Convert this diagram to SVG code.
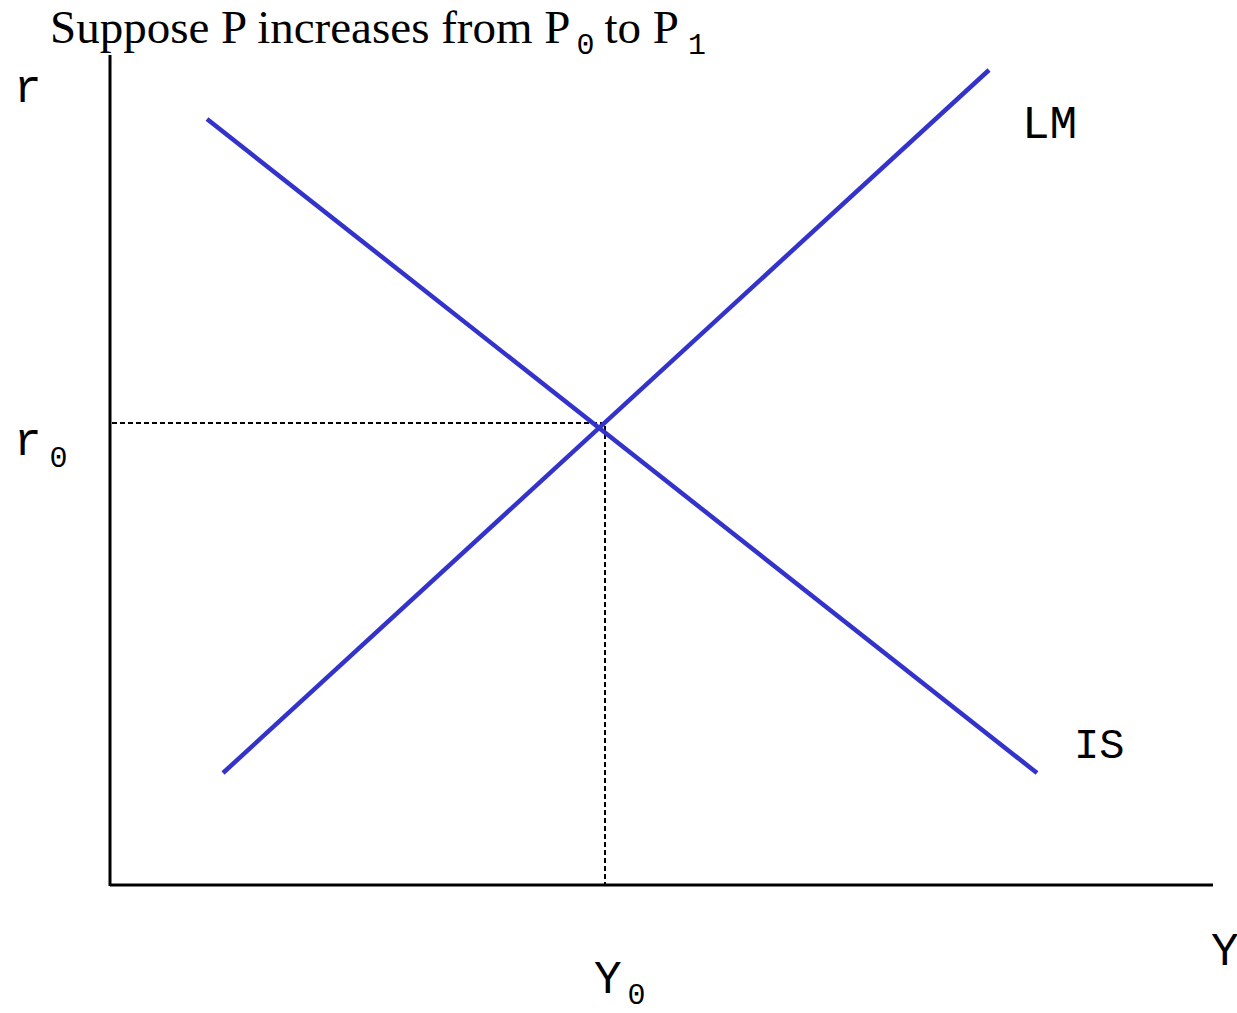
<svg xmlns="http://www.w3.org/2000/svg" width="1237" height="1013" viewBox="0 0 1237 1013">
<style>
.serif{font-family:"Liberation Serif","Times New Roman",serif;fill:#000}
.mono{font-family:"Liberation Mono","Courier New",monospace;fill:#000}
.curve{stroke:#3333cc;stroke-width:4.5;fill:none}
.axis{stroke:#000;stroke-width:3;fill:none}
.dash{stroke:#000;stroke-width:2;stroke-dasharray:5,3;fill:none}
</style>
<rect width="1237" height="1013" fill="#fff"/>
<g id="title"><text class="serif" x="50" y="43" font-size="47">Suppose P increases from P<tspan class="mono" font-size="30" dx="6" dy="11">0</tspan><tspan dx="10" dy="-11">to P</tspan><tspan class="mono" font-size="30" dx="9" dy="11">1</tspan></text></g>
<g id="axes">
<line class="axis" x1="110" y1="55" x2="110" y2="886"/>
<line class="axis" x1="110" y1="885" x2="1213" y2="885"/>
</g>
<g id="guides">
<polyline class="dash" points="112,423 605,423 605,885"/>
</g>
<g id="connectors">
<line id="IS-curve" class="curve" x1="207" y1="119" x2="1037" y2="773"/>
<line id="LM-curve" class="curve" x1="223" y1="773" x2="989" y2="70"/>
</g>
<g id="labels">
<text class="mono" x="14" y="102" font-size="46">r</text>
<text class="mono" x="14" y="455" font-size="46">r<tspan font-size="30" dx="8" dy="12">0</tspan></text>
<text class="mono" x="1022" y="138" font-size="46">LM</text>
<text class="mono" x="1074" y="758" font-size="42">IS</text>
<text class="mono" x="594" y="993" font-size="46">Y<tspan font-size="30" dx="6" dy="11">0</tspan></text>
<text class="mono" x="1211" y="965" font-size="46">Y</text>
</g>
</svg>
